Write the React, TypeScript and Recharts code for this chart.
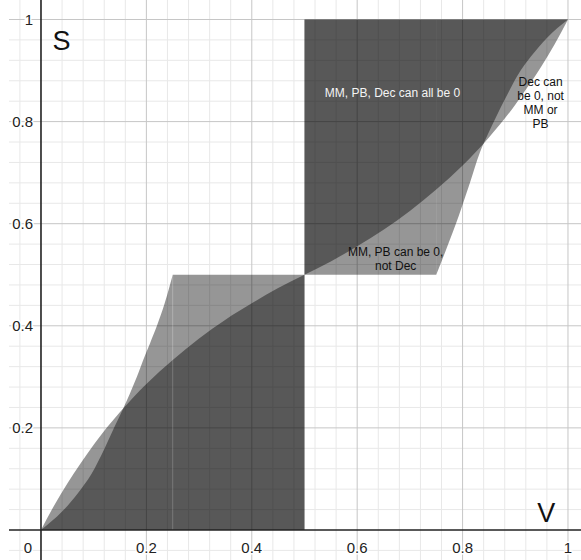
import React from 'react';
import { ComposedChart, Area, Scatter, XAxis, YAxis, ReferenceLine } from 'recharts';

// S against V
const curveLowV = [0, 0.025, 0.05, 0.075, 0.1, 0.15, 0.2, 0.25, 0.3, 0.35, 0.4, 0.45, 0.5];
const curveLowS = [0, 0.048, 0.091, 0.13, 0.167, 0.231, 0.286, 0.333, 0.375, 0.412, 0.444, 0.474, 0.5];
const curveHighV = [0.5, 0.55, 0.6, 0.65, 0.7, 0.75, 0.8, 0.85, 0.9, 0.925, 0.95, 0.975, 1];
const curveHighS = [0.5, 0.526, 0.556, 0.588, 0.625, 0.667, 0.714, 0.769, 0.833, 0.87, 0.909, 0.952, 1];

const edgeLowV = [0, 0.04, 0.07, 0.096, 0.12, 0.14, 0.156, 0.169, 0.182, 0.194, 0.207, 0.22, 0.235, 0.25];
const edgeLowS = [0, 0.036, 0.072, 0.11, 0.158, 0.203, 0.238, 0.268, 0.3, 0.333, 0.366, 0.4, 0.445, 0.5];
const edgeHighV = [0.75, 0.769, 0.793, 0.814, 0.833, 0.848, 0.864, 0.882, 0.904, 0.93, 0.96, 1];
const edgeHighS = [0.5, 0.55, 0.616, 0.68, 0.74, 0.775, 0.81, 0.847, 0.89, 0.928, 0.964, 1];

// flat parts of the two edge regions
const blockLowV = [0.25, 0.5];
const blockHighV = [0.5, 0.75];
const blockS = 0.5;

const minorTicks = [-0.04, 0.04, 0.08, 0.12, 0.16, 0.24, 0.28, 0.32, 0.36, 0.44, 0.48, 0.52, 0.56, 0.64, 0.68, 0.72, 0.76, 0.84, 0.88, 0.92, 0.96];
const majorTicks = [0.2, 0.4, 0.6, 0.8, 1];
const tickLabels = ['0.2', '0.4', '0.6', '0.8', '1'];

const notes = [
  { x: 0.667, y: 0.848, lines: ['MM, PB, Dec can all be 0'], color: '#f4f4f4' },
  { x: 0.673, y: 0.537, lines: ['MM, PB can be 0,', 'not Dec'], color: '#111' },
  { x: 0.948, y: 0.869, lines: ['Dec can', 'be 0, not', 'MM or', 'PB'], color: '#111' },
];
const axisNames = [
  { x: 0.039, y: 0.94, label: 'S' },
  { x: 0.959, y: 0.016, label: 'V' },
];

const lowCurve = curveLowV.map((x, i) => ({ x, r: [0, curveLowS[i]] }));
const lowEdge = edgeLowV.map((x, i) => ({ x, r: [0, edgeLowS[i]] }));
const lowBlock = blockLowV.map((x) => ({ x, r: [0, blockS] }));
const highCurve = curveHighV.map((x, i) => ({ x, r: [curveHighS[i], 1] }));
const highEdge = edgeHighV.map((x, i) => ({ x, r: [edgeHighS[i], 1] }));
const highBlock = blockHighV.map((x) => ({ x, r: [blockS, 1] }));

const xTickPts = majorTicks.map((v, i) => ({ x: v, y: 0, label: tickLabels[i] }));
const yTickPts = majorTicks.map((v, i) => ({ x: 0, y: v, label: tickLabels[i] }));

const font = '"Liberation Sans", Arial, Helvetica, sans-serif';
const halo = { stroke: '#fff', strokeWidth: 3, paintOrder: 'stroke' as const };

const XTick = (p: any) => (
  <text x={p.cx} y={p.cy + 23} textAnchor="middle" fontSize={15} fontFamily={font} fill="#222" {...halo}>
    {p.payload.label}
  </text>
);
const YTick = (p: any) => (
  <text x={p.cx - 8} y={p.cy + 5} textAnchor="end" fontSize={15} fontFamily={font} fill="#222" {...halo}>
    {p.payload.label}
  </text>
);
const Origin = (p: any) => (
  <text x={p.cx - 9} y={p.cy + 23} textAnchor="end" fontSize={15} fontFamily={font} fill="#222" {...halo}>
    0
  </text>
);
const AxisName = (p: any) => (
  <text x={p.cx} y={p.cy} textAnchor="middle" fontSize={27} fontFamily={font} fill="#111">
    {p.payload.label}
  </text>
);
const Note = (p: any) => (
  <text x={p.cx} y={p.cy} textAnchor="middle" fontSize={12} fontFamily={font} fill={p.payload.color}>
    {p.payload.lines.map((l: string, i: number) => (
      <tspan key={i} x={p.cx} dy={i === 0 ? 0 : 14}>{l}</tspan>
    ))}
  </text>
);

const shade = { dataKey: 'r', stroke: 'none', fill: '#000', fillOpacity: 0.41, isAnimationActive: false, dot: false, activeDot: false };

export default function App() {
  return (
    <div style={{ position: 'absolute', left: 0, top: 0, background: '#fff' }}>
      <ComposedChart width={581} height={560} margin={{ top: 0, right: 0, bottom: 0, left: 9 }}>
        <XAxis type="number" dataKey="x" domain={[-0.0607, 1.0247]} allowDataOverflow hide />
        <YAxis type="number" dataKey="y" domain={[-0.0588, 1.0382]} allowDataOverflow hide />
        {minorTicks.map((v) => <ReferenceLine key={'mx' + v} x={v} stroke="#e8e8e8" zIndex={-50} />)}
        {minorTicks.map((v) => <ReferenceLine key={'my' + v} y={v} stroke="#e8e8e8" zIndex={-50} />)}
        {majorTicks.map((v) => <ReferenceLine key={'Mx' + v} x={v} stroke="#c6c6c6" zIndex={-40} />)}
        {majorTicks.map((v) => <ReferenceLine key={'My' + v} y={v} stroke="#c6c6c6" zIndex={-40} />)}
        <Area {...shade} type="monotone" data={lowCurve} />
        <Area {...shade} type="monotone" data={lowEdge} />
        <Area {...shade} type="linear" data={lowBlock} />
        <Area {...shade} type="monotone" data={highCurve} />
        <Area {...shade} type="monotone" data={highEdge} />
        <Area {...shade} type="linear" data={highBlock} />
        <ReferenceLine segment={[{ x: 0.25, y: 0 }, { x: 0.25, y: 0.5 }]} stroke="#fff" strokeOpacity={0.18} />
        <ReferenceLine x={0} stroke="#222" strokeWidth={1.6} />
        <ReferenceLine y={0} stroke="#222" strokeWidth={1.6} />
        <Scatter data={xTickPts} dataKey="y" shape={XTick} isAnimationActive={false} />
        <Scatter data={yTickPts} dataKey="y" shape={YTick} isAnimationActive={false} />
        <Scatter data={[{ x: 0, y: 0 }]} dataKey="y" shape={Origin} isAnimationActive={false} />
        <Scatter data={axisNames} dataKey="y" shape={AxisName} isAnimationActive={false} />
        <Scatter data={notes} dataKey="y" shape={Note} isAnimationActive={false} />
      </ComposedChart>
    </div>
  );
}
